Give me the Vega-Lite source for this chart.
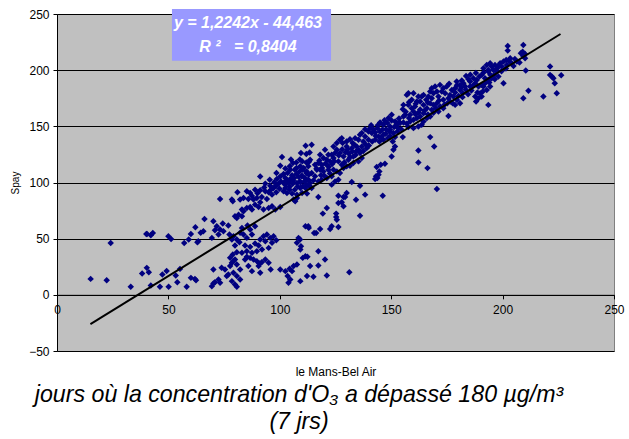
{
  "$schema": "https://vega.github.io/schema/vega-lite/v6.json",
  "width": 557,
  "height": 337,
  "autosize": "none",
  "padding": {"left": 57, "top": 14, "right": 15, "bottom": 88},
  "background": "white",
  "config": {
    "font": "Liberation Sans",
    "view": {"fill": "#C0C0C0", "stroke": "#808080", "strokeWidth": 1}
  },
  "title": {
    "text": ["jours où la concentration d'O₃ a dépassé 180 µg/m³", "(7 jrs)"],
    "orient": "bottom",
    "anchor": "middle",
    "font": "Liberation Sans",
    "fontSize": 23.2,
    "fontStyle": "italic",
    "fontWeight": "normal",
    "color": "black",
    "lineHeight": 27,
    "offset": 6,
    "dx": -36.5
  },
  "datasets": {
    "pts": [
      {"x":24.1,"y":46.2},{"x":15.1,"y":14.2},{"x":22.3,"y":13.0},{"x":33.1,"y":7.1},{"x":40.1,"y":54.2},{"x":40.4,"y":54.2},{"x":43.0,"y":55.1},{"x":42.1,"y":53.0},{"x":40.3,"y":24.0},{"x":38.2,"y":18.9},{"x":41.2,"y":20.1},{"x":42.1,"y":8.3},{"x":46.2,"y":7.1},{"x":50.1,"y":7.1},{"x":47.3,"y":18.0},{"x":49.2,"y":21.3},{"x":50.0,"y":52.1},{"x":51.2,"y":49.8},{"x":55.2,"y":23.1},{"x":53.3,"y":17.2},{"x":54.0,"y":11.2},{"x":58.2,"y":7.1},{"x":60.1,"y":15.1},{"x":61.9,"y":14.2},{"x":62.4,"y":13.0},{"x":57.1,"y":46.2},{"x":59.1,"y":49.2},{"x":60.1,"y":54.2},{"x":62.1,"y":60.1},{"x":63.4,"y":47.6},{"x":63.0,"y":46.8},
      {"x":111.6,"y":132.7},{"x":109.5,"y":126.2},{"x":111.9,"y":125.3},{"x":113.4,"y":126.8},{"x":110.1,"y":118.8},{"x":111.9,"y":117.9},{"x":113.1,"y":118.5},{"x":101.0,"y":122.6},{"x":100.2,"y":114.9},{"x":105.9,"y":117.3},{"x":107.4,"y":117.9},{"x":109.2,"y":114.4},{"x":110.7,"y":112.9},{"x":108.9,"y":109.9},{"x":106.7,"y":111.4},{"x":104.7,"y":111.4},{"x":103.5,"y":108.4},{"x":101.7,"y":107.5},{"x":100.2,"y":105.4},{"x":102.5,"y":104.0},{"x":104.7,"y":103.1},{"x":106.5,"y":104.0},{"x":108.5,"y":104.9},{"x":110.0,"y":106.1},{"x":111.9,"y":108.4},{"x":113.0,"y":107.0},{"x":98.7,"y":103.1},{"x":97.5,"y":100.2},{"x":99.5,"y":99.0},{"x":101.7,"y":99.6},{"x":104.0,"y":100.2},{"x":105.9,"y":99.0},{"x":107.7,"y":99.6},{"x":109.2,"y":100.2},{"x":111.0,"y":101.0},{"x":113.0,"y":101.9},{"x":91.2,"y":105.4},{"x":93.5,"y":99.0},{"x":95.7,"y":97.2},{"x":97.2,"y":95.1},{"x":99.9,"y":94.5},{"x":102.5,"y":95.1},{"x":104.4,"y":93.6},{"x":106.7,"y":93.6},{"x":109.2,"y":95.1},{"x":111.5,"y":95.1},{"x":113.4,"y":96.6},{"x":81.0,"y":91.3},{"x":85.2,"y":92.2},{"x":86.7,"y":90.7},{"x":88.9,"y":93.6},{"x":91.2,"y":93.0},{"x":93.5,"y":92.2},{"x":95.0,"y":91.3},{"x":96.5,"y":89.2},{"x":98.4,"y":91.3},{"x":101.7,"y":92.2},{"x":103.2,"y":90.7},{"x":105.5,"y":90.1},{"x":107.7,"y":89.2},{"x":110.0,"y":90.7},{"x":112.2,"y":90.1},{"x":73.2,"y":85.3},{"x":78.9,"y":83.3},{"x":78.5,"y":84.8},{"x":82.2,"y":84.8},{"x":83.7,"y":86.2},{"x":85.9,"y":85.3},{"x":88.2,"y":84.8},{"x":89.7,"y":86.2},{"x":91.9,"y":87.1},{"x":94.2,"y":85.3},{"x":91.2,"y":82.4},{"x":88.9,"y":80.3},{"x":86.7,"y":78.2},{"x":85.2,"y":77.4},{"x":83.0,"y":75.9},{"x":83.7,"y":74.4},{"x":87.5,"y":75.9},{"x":90.5,"y":78.2},{"x":92.7,"y":75.9},{"x":95.0,"y":77.4},{"x":96.5,"y":78.8},{"x":100.2,"y":78.2},{"x":98.0,"y":75.9},{"x":106.2,"y":84.8},{"x":107.7,"y":86.2},{"x":106.9,"y":83.3},{"x":79.9,"y":69.9},{"x":81.5,"y":71.4},{"x":83.0,"y":69.9},{"x":80.7,"y":68.4},{"x":66.2,"y":67.6},{"x":70.2,"y":65.5},{"x":74.4,"y":63.4},{"x":73.2,"y":58.1},{"x":71.7,"y":61.1},{"x":70.9,"y":57.5},{"x":65.7,"y":56.6},{"x":64.5,"y":55.2},{"x":69.5,"y":50.7},{"x":72.5,"y":53.7},{"x":74.7,"y":56.6},{"x":76.9,"y":61.7},{"x":77.4,"y":53.7},{"x":82.2,"y":55.2},{"x":83.7,"y":53.7},{"x":86.7,"y":58.1},{"x":88.9,"y":61.1},{"x":87.5,"y":53.7},{"x":85.2,"y":50.7},{"x":80.7,"y":49.2},{"x":78.5,"y":49.2},{"x":79.2,"y":52.2},{"x":83.0,"y":59.6},{"x":85.5,"y":61.7},{"x":79.9,"y":43.9},{"x":81.9,"y":46.9},{"x":84.4,"y":43.9},{"x":86.7,"y":42.7},{"x":88.9,"y":45.7},{"x":90.5,"y":43.9},{"x":91.2,"y":49.2},{"x":92.7,"y":52.2},{"x":94.2,"y":53.7},{"x":95.7,"y":50.7},{"x":97.2,"y":52.2},{"x":98.4,"y":48.6},{"x":96.5,"y":46.3},{"x":93.5,"y":47.8},{"x":95.0,"y":41.8},{"x":92.0,"y":40.3},{"x":89.7,"y":38.9},{"x":87.5,"y":37.4},{"x":85.2,"y":38.9},{"x":83.0,"y":37.4},{"x":80.7,"y":38.0},{"x":78.9,"y":35.9},{"x":77.7,"y":33.0},{"x":79.2,"y":30.0},{"x":80.7,"y":27.0},{"x":79.9,"y":31.5},{"x":78.5,"y":28.5},{"x":77.7,"y":25.6},{"x":84.4,"y":31.5},{"x":85.2,"y":33.8},{"x":86.7,"y":32.9},{"x":88.2,"y":31.5},{"x":89.7,"y":30.0},{"x":90.9,"y":27.9},{"x":91.9,"y":29.1},{"x":93.5,"y":31.5},{"x":95.0,"y":28.5},{"x":90.5,"y":25.6},{"x":91.2,"y":19.6},{"x":87.5,"y":21.1},{"x":85.9,"y":25.6},{"x":82.2,"y":22.6},{"x":80.7,"y":16.7},{"x":79.2,"y":19.6},{"x":76.9,"y":18.2},{"x":75.4,"y":22.6},{"x":73.9,"y":24.1},{"x":70.2,"y":22.6},{"x":72.5,"y":13.7},{"x":73.2,"y":10.7},{"x":70.9,"y":11.3},{"x":69.5,"y":7.6},{"x":70.2,"y":10.1},{"x":78.5,"y":12.2},{"x":79.9,"y":9.3},{"x":80.7,"y":7.2},{"x":76.2,"y":16.7},{"x":82.2,"y":13.7},{"x":95.9,"y":22.6},{"x":100.2,"y":22.6},{"x":102.5,"y":21.1},{"x":104.4,"y":23.2},{"x":106.2,"y":25.6},{"x":107.7,"y":27.0},{"x":105.5,"y":21.1},{"x":103.5,"y":16.7},{"x":103.9,"y":10.7},{"x":104.7,"y":13.7},{"x":109.2,"y":12.2},{"x":112.2,"y":16.7},{"x":111.5,"y":34.4},{"x":112.4,"y":33.8},{"x":109.2,"y":40.3},{"x":109.5,"y":43.3},{"x":107.7,"y":46.3},{"x":108.4,"y":50.7},{"x":111.5,"y":61.1},{"x":113.0,"y":59.6},{"x":113.6,"y":25.6},
      {"x":150.2,"y":160.3},{"x":150.2,"y":155.2},{"x":152.5,"y":152.9},{"x":153.7,"y":153.5},{"x":149.5,"y":149.9},{"x":151.3,"y":149.3},{"x":148.3,"y":152.9},{"x":145.0,"y":153.5},{"x":146.5,"y":151.4},{"x":147.7,"y":147.5},{"x":149.2,"y":145.5},{"x":151.0,"y":144.0},{"x":152.8,"y":145.5},{"x":151.7,"y":140.4},{"x":150.7,"y":136.6},{"x":151.7,"y":132.1},{"x":150.2,"y":123.2},{"x":143.8,"y":148.4},{"x":142.0,"y":147.5},{"x":140.5,"y":148.4},{"x":139.8,"y":145.5},{"x":141.3,"y":144.0},{"x":142.8,"y":144.6},{"x":145.0,"y":145.5},{"x":146.5,"y":142.5},{"x":144.3,"y":141.0},{"x":142.8,"y":138.1},{"x":144.7,"y":136.6},{"x":146.5,"y":138.1},{"x":138.3,"y":147.5},{"x":136.8,"y":144.0},{"x":138.3,"y":141.0},{"x":139.8,"y":138.1},{"x":137.5,"y":136.6},{"x":135.3,"y":138.1},{"x":136.0,"y":142.5},{"x":133.8,"y":139.5},{"x":132.7,"y":135.1},{"x":134.5,"y":132.1},{"x":136.8,"y":132.1},{"x":139.0,"y":130.6},{"x":131.5,"y":138.6},{"x":130.0,"y":136.6},{"x":127.8,"y":139.5},{"x":127.0,"y":138.1},{"x":128.2,"y":135.1},{"x":130.0,"y":132.1},{"x":132.3,"y":130.6},{"x":134.2,"y":127.7},{"x":136.0,"y":126.2},{"x":136.8,"y":121.8},{"x":135.3,"y":118.8},{"x":133.0,"y":117.3},{"x":130.8,"y":120.3},{"x":128.6,"y":123.2},{"x":127.0,"y":126.2},{"x":125.6,"y":129.2},{"x":124.1,"y":132.1},{"x":125.6,"y":135.1},{"x":124.8,"y":126.2},{"x":124.1,"y":121.8},{"x":126.3,"y":118.8},{"x":127.8,"y":115.8},{"x":130.0,"y":114.4},{"x":131.5,"y":114.9},{"x":133.0,"y":123.2},{"x":120.3,"y":129.2},{"x":118.1,"y":124.7},{"x":119.6,"y":121.8},{"x":121.1,"y":120.3},{"x":122.6,"y":118.8},{"x":121.8,"y":124.7},{"x":123.3,"y":124.7},{"x":121.1,"y":115.8},{"x":118.8,"y":115.8},{"x":117.3,"y":117.3},{"x":115.8,"y":115.8},{"x":114.3,"y":133.6},{"x":113.6,"y":120.3},{"x":112.8,"y":114.4},{"x":110.3,"y":111.4},{"x":112.1,"y":109.9},{"x":114.3,"y":108.4},{"x":115.8,"y":105.5},{"x":116.6,"y":111.4},{"x":118.1,"y":111.4},{"x":119.6,"y":109.9},{"x":121.8,"y":111.4},{"x":124.1,"y":111.4},{"x":125.6,"y":109.9},{"x":127.0,"y":108.4},{"x":128.6,"y":112.9},{"x":123.3,"y":105.5},{"x":121.1,"y":104.0},{"x":118.8,"y":102.5},{"x":117.3,"y":101.0},{"x":115.1,"y":101.9},{"x":112.8,"y":102.5},{"x":111.3,"y":104.0},{"x":109.8,"y":105.5},{"x":109.1,"y":101.0},{"x":110.3,"y":96.6},{"x":112.1,"y":98.1},{"x":113.6,"y":99.5},{"x":114.3,"y":95.1},{"x":123.3,"y":98.1},{"x":124.8,"y":101.0},{"x":126.3,"y":102.5},{"x":143.5,"y":113.8},{"x":144.7,"y":109.9},{"x":143.2,"y":105.5},{"x":143.8,"y":104.0},{"x":142.8,"y":103.1},{"x":144.3,"y":106.9},{"x":145.3,"y":115.8},{"x":147.2,"y":116.7},{"x":117.3,"y":87.1},{"x":132.3,"y":100.4},{"x":136.0,"y":97.2},{"x":138.3,"y":89.2},{"x":134.2,"y":84.7},{"x":126.3,"y":88.3},{"x":128.6,"y":87.1},{"x":130.0,"y":90.6},{"x":127.8,"y":82.4},{"x":129.3,"y":87.1},{"x":128.6,"y":78.8},{"x":126.3,"y":81.8},{"x":121.1,"y":77.3},{"x":119.3,"y":72.3},{"x":125.3,"y":72.3},{"x":125.3,"y":69.3},{"x":125.6,"y":66.9},{"x":136.0,"y":70.5},{"x":146.2,"y":88.3},{"x":123.3,"y":61.0},{"x":122.6,"y":58.6},{"x":126.3,"y":60.4},{"x":118.1,"y":58.6},{"x":115.4,"y":55.1},{"x":116.3,"y":55.1},{"x":112.8,"y":61.0},{"x":109.1,"y":49.2},{"x":110.3,"y":32.9},{"x":117.3,"y":38.8},{"x":120.3,"y":31.4},{"x":117.3,"y":26.1},{"x":121.1,"y":17.2},{"x":115.1,"y":16.0},{"x":131.2,"y":20.1},
      {"x":192.9,"y":204.7},{"x":193.6,"y":200.2},{"x":191.4,"y":201.7},{"x":190.6,"y":195.8},{"x":192.1,"y":192.8},{"x":192.9,"y":189.9},{"x":189.6,"y":194.3},{"x":188.4,"y":191.3},{"x":186.9,"y":192.8},{"x":185.4,"y":189.9},{"x":183.6,"y":194.9},{"x":184.7,"y":191.9},{"x":181.7,"y":190.7},{"x":182.4,"y":188.4},{"x":180.9,"y":186.9},{"x":183.2,"y":185.4},{"x":185.4,"y":185.4},{"x":187.7,"y":188.4},{"x":189.2,"y":185.4},{"x":191.4,"y":185.4},{"x":192.9,"y":182.4},{"x":191.1,"y":181.0},{"x":188.7,"y":180.1},{"x":187.7,"y":176.5},{"x":189.2,"y":175.0},{"x":190.6,"y":176.5},{"x":188.1,"y":172.1},{"x":193.6,"y":169.1},{"x":179.4,"y":189.9},{"x":178.7,"y":183.9},{"x":177.2,"y":182.4},{"x":178.7,"y":180.1},{"x":180.9,"y":182.4},{"x":182.1,"y":179.5},{"x":180.2,"y":177.1},{"x":177.9,"y":176.5},{"x":176.4,"y":178.0},{"x":174.9,"y":185.4},{"x":173.4,"y":183.9},{"x":171.9,"y":186.9},{"x":172.7,"y":181.0},{"x":174.2,"y":179.5},{"x":175.7,"y":175.0},{"x":177.6,"y":170.6},{"x":178.7,"y":169.1},{"x":180.9,"y":170.6},{"x":175.2,"y":170.6},{"x":173.4,"y":173.6},{"x":171.2,"y":176.5},{"x":170.5,"y":181.0},{"x":169.7,"y":185.4},{"x":168.2,"y":183.9},{"x":167.5,"y":181.0},{"x":169.0,"y":179.5},{"x":168.2,"y":175.0},{"x":166.7,"y":176.5},{"x":165.7,"y":173.6},{"x":167.5,"y":170.6},{"x":169.0,"y":169.1},{"x":170.5,"y":170.6},{"x":172.0,"y":167.7},{"x":173.4,"y":166.2},{"x":171.2,"y":163.2},{"x":168.2,"y":164.7},{"x":166.0,"y":166.2},{"x":164.5,"y":169.1},{"x":163.0,"y":172.1},{"x":163.7,"y":176.5},{"x":162.2,"y":176.5},{"x":160.0,"y":179.5},{"x":157.7,"y":179.5},{"x":157.0,"y":178.0},{"x":159.2,"y":173.6},{"x":161.5,"y":172.1},{"x":160.7,"y":167.7},{"x":159.2,"y":166.2},{"x":157.7,"y":169.1},{"x":155.5,"y":169.1},{"x":155.2,"y":165.3},{"x":160.0,"y":163.2},{"x":162.2,"y":162.3},{"x":164.5,"y":161.7},{"x":163.0,"y":158.8},{"x":161.5,"y":157.3},{"x":160.0,"y":155.8},{"x":158.5,"y":154.4},{"x":157.0,"y":152.3},{"x":155.5,"y":153.5},{"x":154.0,"y":152.9},{"x":152.5,"y":151.4},{"x":151.8,"y":154.4},{"x":158.5,"y":160.3},{"x":156.3,"y":160.3},{"x":155.5,"y":158.8},{"x":164.5,"y":154.4},{"x":163.7,"y":151.4},{"x":162.2,"y":149.9},{"x":160.0,"y":148.4},{"x":157.7,"y":149.3},{"x":175.7,"y":159.3},{"x":166.0,"y":157.3},{"x":167.5,"y":158.8},{"x":155.2,"y":140.4},{"x":149.5,"y":146.9},{"x":151.0,"y":129.1},{"x":167.5,"y":140.4},{"x":169.3,"y":132.1},{"x":162.2,"y":128.5},{"x":162.2,"y":117.9},{"x":166.3,"y":112.8},{"x":170.5,"y":94.2},
      {"x":202.3,"y":221.6},{"x":202.3,"y":217.4},{"x":209.3,"y":222.5},{"x":209.0,"y":216.5},{"x":208.2,"y":215.1},{"x":210.1,"y":214.5},{"x":209.3,"y":212.7},{"x":210.1,"y":210.6},{"x":203.4,"y":210.6},{"x":201.6,"y":209.1},{"x":200.4,"y":207.7},{"x":198.9,"y":206.2},{"x":198.1,"y":203.8},{"x":199.6,"y":203.2},{"x":201.9,"y":204.7},{"x":204.1,"y":206.2},{"x":206.4,"y":207.7},{"x":207.6,"y":206.8},{"x":204.9,"y":203.8},{"x":196.6,"y":204.7},{"x":195.1,"y":203.2},{"x":194.4,"y":206.2},{"x":195.9,"y":200.2},{"x":197.4,"y":198.8},{"x":196.2,"y":195.8},{"x":198.1,"y":194.3},{"x":195.1,"y":192.8},{"x":193.6,"y":191.4},{"x":193.6,"y":198.8},{"x":192.1,"y":188.4},{"x":190.6,"y":186.9},{"x":194.4,"y":185.4},{"x":189.9,"y":179.5},{"x":200.4,"y":188.4},{"x":210.4,"y":199.7},{"x":221.3,"y":203.2},{"x":221.3,"y":195.8},{"x":222.1,"y":194.3},{"x":222.8,"y":192.8},{"x":226.3,"y":195.5},{"x":223.4,"y":188.4},{"x":224.3,"y":179.5},{"x":218.3,"y":176.5},{"x":211.6,"y":181.6},{"x":209.3,"y":175.0},
      {"x":116.5,"y":112.5},{"x":117.8,"y":119.5},{"x":119.0,"y":113.0},{"x":120.5,"y":117.0},{"x":122.0,"y":114.0},{"x":123.5,"y":116.5},{"x":124.5,"y":119.0},{"x":118.5,"y":106.5},{"x":120.0,"y":106.0},{"x":122.5,"y":108.0},{"x":126.5,"y":124.0},{"x":128.0,"y":129.5},{"x":129.5,"y":127.0},{"x":131.0,"y":125.5},{"x":132.5,"y":127.5},{"x":134.0,"y":124.5},{"x":135.5,"y":129.0},{"x":137.5,"y":128.0},{"x":138.5,"y":134.0},{"x":140.0,"y":133.0},{"x":141.5,"y":136.5},{"x":133.5,"y":133.5},{"x":130.5,"y":129.5},{"x":129.0,"y":118.0},{"x":131.5,"y":122.5},{"x":143.0,"y":141.5},{"x":145.5,"y":140.0},{"x":147.5,"y":143.5},{"x":148.5,"y":139.5},{"x":149.5,"y":141.5},{"x":153.0,"y":148.5},{"x":154.5,"y":147.5},{"x":153.5,"y":157.0},{"x":147.0,"y":155.5},{"x":144.0,"y":151.0},{"x":141.0,"y":151.0},{"x":146.0,"y":147.0},{"x":148.8,"y":157.5},{"x":156.5,"y":163.0},{"x":158.0,"y":157.5},{"x":161.0,"y":160.5},{"x":163.0,"y":165.0},{"x":165.0,"y":164.0},{"x":166.5,"y":160.5},{"x":169.0,"y":162.0},{"x":170.0,"y":166.0},{"x":158.0,"y":171.5},{"x":161.0,"y":170.0},{"x":164.5,"y":178.0},{"x":166.5,"y":171.0},{"x":171.5,"y":173.0},{"x":174.0,"y":169.5},{"x":176.5,"y":172.0},{"x":179.5,"y":173.5},{"x":182.0,"y":176.0},{"x":184.5,"y":178.5},{"x":186.0,"y":182.0},{"x":183.5,"y":182.5},{"x":186.5,"y":186.0},{"x":181.5,"y":184.5},{"x":176.0,"y":188.0},{"x":179.5,"y":186.5},{"x":185.5,"y":196.0},{"x":188.0,"y":197.5},{"x":194.5,"y":196.0},{"x":196.5,"y":192.0},{"x":197.5,"y":201.5},{"x":199.5,"y":199.0},{"x":201.5,"y":201.5},{"x":203.0,"y":208.0},{"x":205.5,"y":210.0},{"x":191.5,"y":198.0},{"x":194.0,"y":189.0},{"x":96.0,"y":93.5},{"x":98.5,"y":97.0},{"x":100.5,"y":101.0},{"x":102.5,"y":98.0},{"x":104.5,"y":96.5},{"x":106.0,"y":101.5},{"x":108.0,"y":96.5},{"x":103.0,"y":102.0},{"x":105.5,"y":106.5},{"x":107.5,"y":107.5},{"x":102.5,"y":112.5},{"x":104.5,"y":114.5},{"x":107.5,"y":113.0},{"x":109.0,"y":120.5},{"x":105.0,"y":120.5},{"x":98.5,"y":108.5},{"x":95.5,"y":102.5},{"x":93.0,"y":95.5},{"x":90.0,"y":90.5},{"x":87.5,"y":88.0}
    ],
    "trend": [
      {"x": 15, "y": -26.1},
      {"x": 226, "y": 232.2}
    ]
  },
  "layer": [
    {
      "data": {"name": "pts"},
      "mark": {"type": "point", "shape": "diamond", "filled": true, "size": 42, "color": "#000080", "opacity": 1},
      "encoding": {
        "x": {
          "field": "x", "type": "quantitative",
          "scale": {"domain": [0, 250], "nice": false, "zero": false},
          "axis": {
            "title": "le Mans-Bel Air",
            "values": [0, 50, 100, 150, 200, 250],
            "offset": -56.17,
            "grid": false,
            "domainColor": "black",
            "tickColor": "black",
            "tickSize": 4,
            "labelFontSize": 12,
            "labelColor": "black",
            "labelPadding": 6,
            "labelFlush": false,
            "labelOverlap": false,
            "titleFontSize": 12,
            "titleFontWeight": "normal",
            "titleColor": "black",
            "titlePadding": 51
          }
        },
        "y": {
          "field": "y", "type": "quantitative",
          "scale": {"domain": [-50, 250], "nice": false, "zero": false},
          "axis": {
            "title": "Spay",
            "values": [-50, 0, 50, 100, 150, 200, 250],
            "grid": true,
            "gridColor": "black",
            "gridOpacity": 1,
            "gridWidth": 1,
            "domainColor": "black",
            "tickColor": "black",
            "tickSize": 4,
            "labelFontSize": 12,
            "labelColor": "black",
            "labelPadding": 4,
            "labelFlush": false,
            "titleFontSize": 10,
            "titleFontWeight": "normal",
            "titleColor": "black",
            "titlePadding": 8
          }
        }
      }
    },
    {
      "data": {"name": "trend"},
      "mark": {"type": "line", "color": "black", "strokeWidth": 2},
      "encoding": {
        "x": {"field": "x", "type": "quantitative"},
        "y": {"field": "y", "type": "quantitative"}
      }
    },
    {
      "data": {"values": [{}]},
      "mark": {"type": "rect", "color": "#9999FF", "opacity": 1},
      "encoding": {
        "x": {"datum": 51.6, "type": "quantitative"},
        "x2": {"datum": 123.0},
        "y": {"datum": 254.5, "type": "quantitative"},
        "y2": {"datum": 208.3}
      }
    },
    {
      "data": {"values": [{}]},
      "mark": {"type": "text", "text": "y = 1,2242x - 44,463", "font": "Liberation Sans", "fontSize": 16, "fontWeight": "bold", "fontStyle": "italic", "color": "white", "align": "center", "baseline": "alphabetic"},
      "encoding": {
        "x": {"datum": 85.7, "type": "quantitative"},
        "y": {"datum": 237.6, "type": "quantitative"}
      }
    },
    {
      "data": {"values": [{}]},
      "mark": {"type": "text", "text": "R\u00a0²\u00a0\u00a0\u00a0= 0,8404", "font": "Liberation Sans", "fontSize": 16, "fontWeight": "bold", "fontStyle": "italic", "color": "white", "align": "center", "baseline": "alphabetic"},
      "encoding": {
        "x": {"datum": 85.7, "type": "quantitative"},
        "y": {"datum": 216.3, "type": "quantitative"}
      }
    }
  ]
}
